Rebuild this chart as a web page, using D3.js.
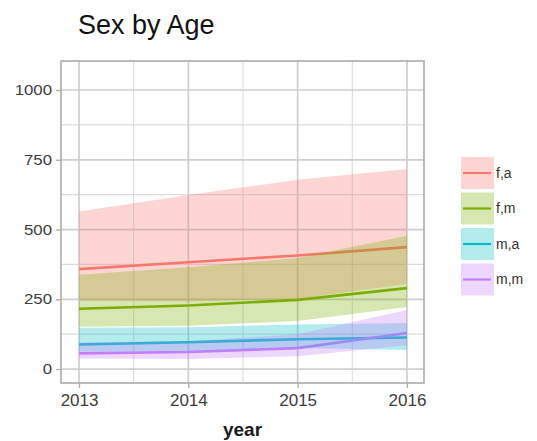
<!DOCTYPE html>
<html>
<head>
<meta charset="utf-8">
<script src="https://cdn.jsdelivr.net/npm/d3@7"></script>
<style>
  html, body { margin: 0; padding: 0; background: #fff; }
  svg { display: block; font-family: "Liberation Sans", Arial, sans-serif; }
</style>
</head>
<body>
<svg id="chart" width="537" height="441"></svg>
<script>
// Years on the x axis
const years = [2013, 2014, 2015, 2016];

// Group keys and their colours
const groups = ["f,a", "f,m", "m,a", "m,m"];
const colors = ["#F8766D", "#7CAE00", "#00BFC4", "#C77CFF"];

// Mean per year for each group
const meanFA = [358, 383, 407, 437];
const meanFM = [216, 228, 248, 290];
const meanMA = [88, 96, 107, 113];
const meanMM = [56, 61, 75, 129];

// Upper bound of the band per group
const upperFA = [565, 624, 678, 717];
const upperFM = [338, 365, 398, 478];
const upperMA = [148, 150, 160, 165];
const upperMM = [96, 100, 125, 212];

// Lower bound of the band per group
const lowerFA = [245, 242, 252, 305];
const lowerFM = [152, 155, 172, 222];
const lowerMA = [62, 65, 75, 68];
const lowerMM = [38, 36, 46, 85];

// Axis ticks
const yTicks = [0, 250, 500, 750, 1000];
const yMinor = [125, 375, 625, 875];
const xMinor = [2013.5, 2014.5, 2015.5];

const means = [meanFA, meanFM, meanMA, meanMM];
const uppers = [upperFA, upperFM, upperMA, upperMM];
const lowers = [lowerFA, lowerFM, lowerMA, lowerMM];

const series = groups.map((g, i) => ({
  key: g,
  color: colors[i],
  values: years.map((yr, j) => ({ year: yr, mean: means[i][j], lo: lowers[i][j], hi: uppers[i][j] }))
}));

const svg = d3.select("#chart");
const panel = { left: 61, right: 424, top: 61, bottom: 383 };

const x = d3.scaleLinear().domain([2012.835, 2016.156]).range([panel.left, panel.right]);
const y = d3.scaleLinear().domain([-50, 1104]).range([panel.bottom, panel.top]);

// Panel background
svg.append("rect")
  .attr("x", panel.left).attr("y", panel.top)
  .attr("width", panel.right - panel.left).attr("height", panel.bottom - panel.top)
  .attr("fill", "#fff");

// Grid: minor then major
const grid = svg.append("g");
grid.selectAll(".ymin").data(yMinor).join("line")
  .attr("x1", panel.left).attr("x2", panel.right)
  .attr("y1", d => y(d)).attr("y2", d => y(d))
  .attr("stroke", "#dcdcdc").attr("stroke-width", 1.1);
grid.selectAll(".xmin").data(xMinor).join("line")
  .attr("y1", panel.top).attr("y2", panel.bottom)
  .attr("x1", d => x(d)).attr("x2", d => x(d))
  .attr("stroke", "#dcdcdc").attr("stroke-width", 1.1);
grid.selectAll(".ymaj").data(yTicks).join("line")
  .attr("x1", panel.left).attr("x2", panel.right)
  .attr("y1", d => y(d)).attr("y2", d => y(d))
  .attr("stroke", "#cfcfcf").attr("stroke-width", 1.7);
grid.selectAll(".xmaj").data(years).join("line")
  .attr("y1", panel.top).attr("y2", panel.bottom)
  .attr("x1", d => x(d)).attr("x2", d => x(d))
  .attr("stroke", "#cfcfcf").attr("stroke-width", 1.7);

// Mean lines (drawn first, bands sit on top of them)
const line = d3.line().x(d => x(d.year)).y(d => y(d.mean));
svg.append("g").selectAll("path").data(series).join("path")
  .attr("d", d => line(d.values))
  .attr("fill", "none")
  .attr("stroke", d => d.color)
  .attr("stroke-width", 2.6);

// Bands
const area = d3.area().x(d => x(d.year)).y0(d => y(d.lo)).y1(d => y(d.hi));
svg.append("g").selectAll("path").data(series).join("path")
  .attr("d", d => area(d.values))
  .attr("fill", d => d.color)
  .attr("fill-opacity", 0.3);

// Panel border
svg.append("rect")
  .attr("x", panel.left).attr("y", panel.top)
  .attr("width", panel.right - panel.left).attr("height", panel.bottom - panel.top)
  .attr("fill", "none").attr("stroke", "#ababab").attr("stroke-width", 1.6);

// Y axis
const yAxis = svg.append("g")
  .attr("transform", `translate(${panel.left},0)`)
  .call(d3.axisLeft(y).tickValues(yTicks).tickSize(5).tickPadding(3).tickFormat(d3.format("d")));
yAxis.select(".domain").remove();
yAxis.selectAll(".tick line").attr("stroke", "#ababab").attr("stroke-width", 1.3);
yAxis.selectAll(".tick text")
  .attr("fill", "#3d3d3d")
  .style("font-size", "14px")
  .attr("x", 0)
  .attr("text-anchor", "end")
  .attr("transform", "translate(-9,0) scale(1.2,1)");

// X axis
const xAxis = svg.append("g")
  .attr("transform", `translate(0,${panel.bottom})`)
  .call(d3.axisBottom(x).tickValues(years).tickSize(5).tickPadding(6).tickFormat(d3.format("d")));
xAxis.select(".domain").remove();
xAxis.selectAll(".tick line").attr("stroke", "#ababab").attr("stroke-width", 1.3);
xAxis.selectAll(".tick text")
  .attr("fill", "#3d3d3d")
  .style("font-size", "17px");

// Axis title
svg.append("text")
  .attr("x", (panel.left + panel.right) / 2)
  .attr("y", 436)
  .attr("text-anchor", "middle")
  .attr("font-weight", "bold")
  .attr("fill", "#1a1a1a")
  .style("font-size", "19px")
  .text("year");

// Title
svg.append("text")
  .attr("x", 78)
  .attr("y", 34)
  .attr("fill", "#111")
  .style("font-size", "27px")
  .text("Sex by Age");

// Legend
const legend = svg.append("g").attr("transform", "translate(461,157)");
const item = legend.selectAll("g").data(series).join("g")
  .attr("transform", (d, i) => `translate(0,${i * 35.5})`);
item.append("rect")
  .attr("width", 33).attr("height", 32)
  .attr("fill", d => d.color).attr("fill-opacity", 0.3);
item.append("line")
  .attr("x1", 2).attr("x2", 30).attr("y1", 16).attr("y2", 16)
  .attr("stroke", d => d.color).attr("stroke-width", 2.2);
item.append("text")
  .attr("x", 35).attr("y", 16).attr("dy", "0.35em")
  .attr("fill", "#333")
  .style("font-size", "14px")
  .text(d => d.key);
</script>
</body>
</html>
